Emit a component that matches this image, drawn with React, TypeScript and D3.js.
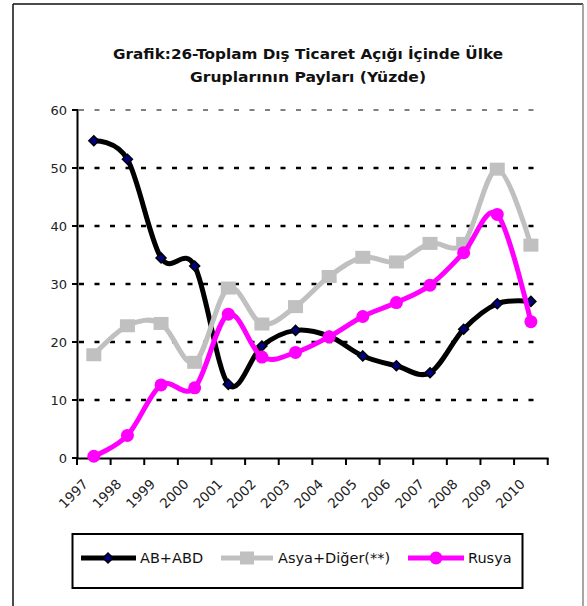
import React from 'react';
import * as d3 from 'd3';

const years = ['1997','1998','1999','2000','2001','2002','2003','2004','2005','2006','2007','2008','2009','2010'];
const abAbd = [54.7, 51.5, 34.5, 33.1, 12.7, 19.3, 22.0, 21.0, 17.6, 15.9, 14.7, 22.2, 26.6, 27.0];
const asyaDiger = [17.8, 22.8, 23.2, 16.5, 29.3, 23.1, 26.1, 31.3, 34.6, 33.8, 37.0, 37.0, 49.8, 36.7];
const rusya = [0.3, 3.9, 12.6, 12.1, 24.8, 17.4, 18.2, 20.9, 24.4, 26.8, 29.8, 35.4, 42.0, 23.5];
const yTicks = [0, 10, 20, 30, 40, 50, 60];
const seriesNames = ['AB+ABD', 'Asya+Diğer(**)', 'Rusya'];
const titleLines = ['Grafik:26-Toplam Dış Ticaret Açığı İçinde Ülke', 'Gruplarının Payları (Yüzde)'];

const FONT = '"DejaVu Sans", Verdana, sans-serif';

export default function App() {
  const W = 587, H = 606;
  const x = d3.scaleBand<string>().domain(years).range([77, 547.7]).padding(0);
  const y = d3.scaleLinear().domain([0, 60]).range([458, 110]);
  const cx = (yr: string) => (x(yr) as number) + x.bandwidth() / 2;
  const line = d3.line<number>()
    .x((_, i) => cx(years[i]))
    .y((v) => y(v))
    .curve(d3.curveCardinal.tension(0));

  const tickXs = years.map((yr) => x(yr) as number).concat([x.range()[1]]);
  const diamond = (px: number, py: number, r: number) =>
    `M${px},${py - r}L${px + r},${py}L${px},${py + r}L${px - r},${py}Z`;

  return (
    <div style={{ position: 'absolute', left: 0, top: 0 }}>
      <svg width={W} height={H} style={{ display: 'block', background: '#fff' }}>
        {/* outer border */}
        <line x1={13} y1={4} x2={13} y2={H} stroke="#111" strokeWidth={1.5} />
        <line x1={13} y1={4} x2={583} y2={4} stroke="#111" strokeWidth={1.5} />
        <line x1={583} y1={4} x2={583} y2={H} stroke="#888" strokeWidth={1.5} />

        {/* title */}
        <text x={308} y={58.5} textAnchor="middle" fontFamily={FONT} fontWeight="bold" fontSize={14}
          textLength={390} lengthAdjust="spacingAndGlyphs" fill="#111">{titleLines[0]}</text>
        <text x={308} y={82} textAnchor="middle" fontFamily={FONT} fontWeight="bold" fontSize={14}
          textLength={236} lengthAdjust="spacingAndGlyphs" fill="#111">{titleLines[1]}</text>

        {/* gridlines */}
        {yTicks.filter((t) => t > 0).map((t) => (
          <line key={t} x1={79} x2={543} y1={y(t)} y2={y(t)} stroke="#000"
            strokeWidth={t === 60 ? 1 : 2.5} strokeDasharray="5 10.5" />
        ))}

        {/* y axis */}
        <line x1={77.5} x2={77.5} y1={109} y2={459} stroke="#000" strokeWidth={2} />
        {yTicks.map((t) => (
          <g key={t}>
            <line x1={72} x2={78} y1={y(t)} y2={y(t)} stroke="#000" strokeWidth={2} />
            <text x={67} y={y(t)} dy="0.35em" textAnchor="end" fontFamily={FONT} fontSize={13} fill="#222">{t}</text>
          </g>
        ))}

        {/* x axis */}
        <line x1={76.5} x2={548.5} y1={458.5} y2={458.5} stroke="#000" strokeWidth={2} />
        {tickXs.map((tx, i) => (
          <line key={i} x1={tx} x2={tx} y1={458} y2={465} stroke="#000" strokeWidth={2} />
        ))}
        {years.map((yr) => (
          <text key={yr} transform={`translate(${cx(yr) - 5},${485}) rotate(-45)`} textAnchor="end"
            fontFamily={FONT} fontSize={13.5} fill="#222">{yr}</text>
        ))}

        {/* series: AB+ABD */}
        <path d={line(abAbd) || ''} fill="none" stroke="#000" strokeWidth={5} strokeLinejoin="round" />
        {abAbd.map((v, i) => (
          <path key={i} d={diamond(cx(years[i]), y(v), 5)} fill="#000080" stroke="#000" strokeWidth={1.5} />
        ))}

        {/* series: Asya+Diğer */}
        <path d={line(asyaDiger) || ''} fill="none" stroke="#C0C0C0" strokeWidth={5} strokeLinejoin="round" />
        {asyaDiger.map((v, i) => (
          <rect key={i} x={cx(years[i]) - 7.5} y={y(v) - 6.5} width={15} height={13} fill="#C0C0C0" />
        ))}

        {/* series: Rusya */}
        <path d={line(rusya) || ''} fill="none" stroke="#FF00FF" strokeWidth={5} strokeLinejoin="round" />
        {rusya.map((v, i) => (
          <circle key={i} cx={cx(years[i])} cy={y(v)} r={6.5} fill="#FF00FF" />
        ))}

        {/* legend */}
        <rect x={72.5} y={534} width={450} height={54} fill="#fff" stroke="#000" strokeWidth={2} />
        <g>
          <line x1={81} x2={136} y1={558} y2={558} stroke="#000" strokeWidth={5} />
          <path d={diamond(108, 558, 5)} fill="#000080" stroke="#000" strokeWidth={1.5} />
          <text x={140} y={558} dy="0.36em" fontFamily={FONT} fontSize={14.5} fill="#111">{seriesNames[0]}</text>

          <line x1={221} x2={273} y1={558} y2={558} stroke="#C0C0C0" strokeWidth={5} />
          <rect x={240} y={551.5} width={14} height={13} fill="#C0C0C0" />
          <text x={278} y={558} dy="0.36em" fontFamily={FONT} fontSize={14.5} fill="#111">{seriesNames[1]}</text>

          <line x1={408} x2={464} y1={558} y2={558} stroke="#FF00FF" strokeWidth={5} />
          <circle cx={436} cy={558} r={6.5} fill="#FF00FF" />
          <text x={468} y={558} dy="0.36em" fontFamily={FONT} fontSize={14.5} fill="#111">{seriesNames[2]}</text>
        </g>
      </svg>
    </div>
  );
}
